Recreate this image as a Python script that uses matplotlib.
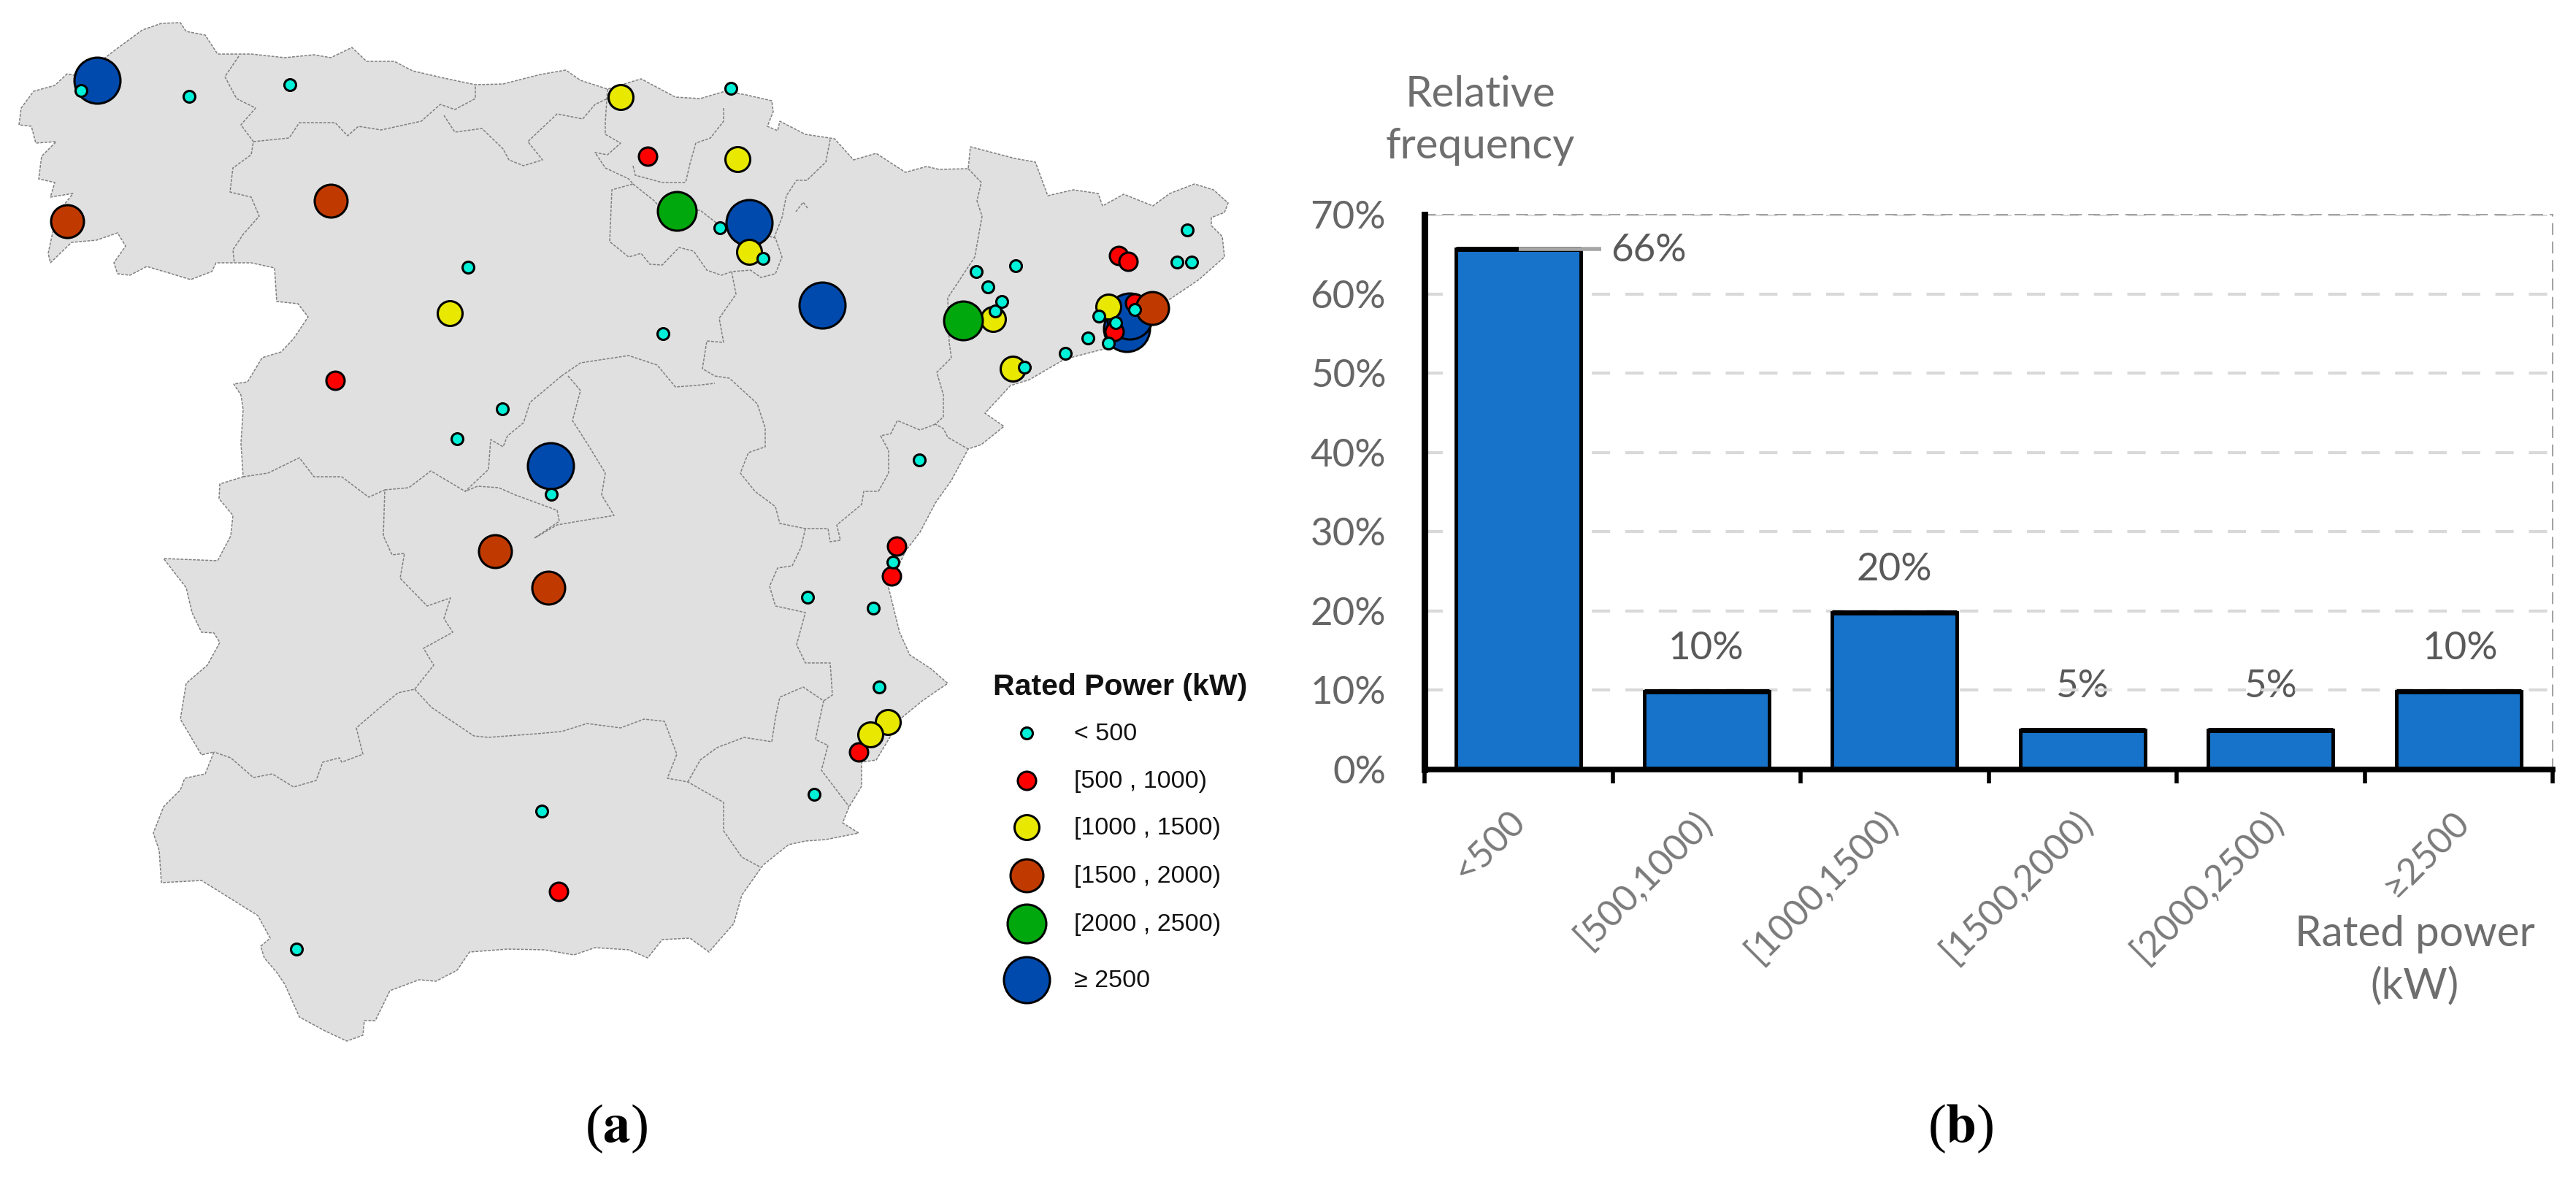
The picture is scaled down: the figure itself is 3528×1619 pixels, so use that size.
import matplotlib
matplotlib.use("Agg")
import matplotlib.pyplot as plt
from matplotlib.patches import Polygon

# 地图轮廓(图像像素坐标)
outline = [(26,171),(29,148),(46,125),(75,117),(92,101),(110,105),(161,66),(195,41),(221,32),(247,31),(255,43),(281,48),(298,74),
    (344,74),(390,79),(430,75),(453,79),(482,65),(502,84),(540,84),(565,97),(608,107),(651,116),(689,115),(740,102),(775,96),
    (795,110),(832,122),(878,108),(925,133),(959,135),(993,125),(1022,130),(1057,138),(1059,153),(1051,173),(1065,179),(1068,166),
    (1103,184),(1143,190),(1169,219),(1200,210),(1240,236),(1269,228),(1286,232),(1326,231),(1329,201),(1390,217),(1418,222),
    (1435,268),(1470,260),(1504,265),(1510,282),(1539,266),(1579,282),(1602,265),(1636,252),(1662,260),(1682,278),(1677,291),
    (1659,298),(1659,309),(1674,324),(1677,352),(1642,383),(1602,410),(1516,477),(1458,492),(1410,520),(1384,528),(1349,566),
    (1375,584),(1344,609),(1326,615),(1303,658),(1281,689),(1260,729),(1240,755),(1217,805),(1232,866),(1246,897),(1275,916),
    (1298,936),(1263,960),(1235,983),(1200,1041),(1180,1044),(1180,1077),(1163,1105),(1154,1127),(1176,1141),(1131,1150),
    (1103,1152),(1080,1157),(1045,1185),(1016,1226),(1005,1265),(971,1304),(945,1285),(907,1287),(887,1312),(861,1301),(815,1298),
    (786,1308),(746,1301),(695,1300),(643,1304),(626,1329),(597,1344),(574,1342),(534,1357),(514,1398),(499,1398),(497,1418),
    (475,1426),(445,1412),(410,1393),(390,1348),(379,1332),(362,1312),(357,1296),(370,1285),(353,1254),(276,1206),(221,1209),
    (218,1165),(210,1141),(224,1105),(247,1082),(253,1066),(281,1060),(293,1030),(276,1034),(247,985),(255,936),(284,911),(301,880),
    (293,867),(276,866),(263,839),(255,805),(224,765),(298,768),(316,734),(319,706),(300,683),(301,663),(333,653),(330,607),(333,561),
    (330,541),(320,526),(339,523),(359,490),(385,482),(402,464),(422,434),(408,416),(379,413),(376,367),(344,360),(296,360),(290,372),
    (261,383),(235,375),(201,365),(178,377),(161,375),(156,360),(172,337),(161,319),(132,329),(98,332),(69,360),(66,347),(72,319),
    (80,290),(100,265),(69,270),(75,250),(53,245),(57,214),(77,194),(49,196),(43,173)]

# 内部边界
borders = [
    [(327,77),(308,105),(324,135),(350,148),(330,171),(347,194),(344,212),(319,230),(315,263),(344,270),(355,296),(333,321),(319,342),(321,360)],
    [(347,194),(396,189),(410,168),(459,168),(476,186),(491,173),(522,178),(577,166),(603,143),(623,150),(651,135),(651,116)],
    [(608,158),(623,181),(660,176),(689,204),(697,219),(717,227),(743,219),(723,194),(763,156),(798,163),(815,143),(832,135)],
    [(832,122),(829,168),(829,184),(850,196),(832,212),(815,209),(829,230),(861,245),(867,252),(838,260),(835,331),(861,352),(878,347),
     (890,362),(907,363),(930,339),(950,344),(968,370),(988,377),(1002,372)],
    [(867,227),(870,240),(907,250),(939,250)],
    [(867,252),(896,275),(907,288),(959,288),(982,306),(1040,320),(1062,326),(1071,352),(1062,375),(1042,380),(1028,370),(1002,372)],
    [(991,148),(991,166),(973,189),(953,196),(945,224),(939,250)],
    [(1137,191),(1131,222),(1105,247),(1091,247),(1077,268),(1071,298),(1060,326)],
    [(1090,290),(1100,277),(1106,285)],
    [(1002,372),(1008,403),(985,436),(991,469),(968,467),(962,505),(979,515),(999,518),(1037,553),(1048,586),(1048,612),(1025,620),
     (1014,648),(1034,673),(1062,694),(1068,717),(1103,724)],
    [(769,515),(795,497),(861,487),(900,500),(925,530),(953,528),(979,525)],
    [(778,515),(795,535),(784,576),(804,607),(829,648),(824,678),(841,706),(792,714),(763,719),(732,737),(766,714),(763,699),(706,678),
     (683,668),(654,666),(637,673),(669,643),(672,602),(689,612),(695,597),(717,579),(726,551),(769,515)],
    [(333,653),(367,648),(410,627),(430,653),(468,653),(505,681),(527,671),(525,734),(537,760),(554,758),(548,792),(585,830),(617,819),
     (608,847),(620,866),(580,888),(594,911),(568,944),(545,949),(517,972),(488,997),(497,1033),(468,1044),(465,1038),(442,1044),
     (433,1069),(402,1078),(373,1060),(347,1065),(316,1038),(293,1030)],
    [(527,671),(560,668),(590,645),(637,673)],
    [(568,944),(591,969),(649,1008),(669,1010),(735,1005),(769,1002),(804,991),(850,997),(882,985),(910,988),(927,1033),(914,1066),
     (942,1071),(991,1099),(991,1138),(1016,1174),(1042,1188)],
    [(942,1071),(959,1041),(982,1024),(1019,1010),(1057,1016),(1062,983),(1068,955),(1100,941),(1128,960),(1120,997),(1117,1013),
     (1134,1021),(1125,1055),(1163,1105)],
    [(1103,724),(1097,750),(1085,775),(1065,778),(1054,803),(1062,830),(1103,839),(1091,883),(1103,908),(1137,908),(1140,952),(1128,960)],
    [(1326,231),(1344,250),(1338,275),(1345,296),(1335,352),(1298,408),(1300,469),(1303,490),(1283,510),(1292,541),(1292,571),(1281,581),
     (1292,587),(1298,599),(1326,615)],
    [(1281,581),(1260,589),(1229,576),(1220,594),(1206,597),(1217,617),(1217,648),(1203,673),(1183,673),(1180,691),(1146,719),(1151,740),
     (1137,742),(1134,724),(1103,724)],
]

# 各功率等级的站点位置
pts_lt500 = [(111,124),(259,132),(397,116),(641,366),(688,560),(626,601),(755,677),(742,1111),(406,1300),(1001,121),(986,312),(1045,354),
    (908,457),(1363,426),(1372,413),(1353,393),(1337,372),(1391,364),(1403,503),(1459,484),(1490,463),(1626,315),(1612,359),(1632,359),
    (1554,424),(1505,433),(1528,442),(1518,470),(1259,630),(1223,770),(1106,818),(1196,833),(1204,941),(1115,1088)]
pts_500 = [(887,214),(459,521),(765,1221),(1532,350),(1545,358),(1554,415),(1526,454),(1228,748),(1221,789),(1176,1030)]
pts_1000 = [(850,133),(616,429),(1010,218),(1026,345),(1360,437),(1387,505),(1518,420),(1216,989),(1192,1006)]
pts_1500 = [(453,275),(92,303),(678,755),(751,805),(1578,422)]
pts_2000 = [(927,289),(1319,439)]
pts_2500 = [(133,110),(754,638),(1026,305),(1126,418),(1543,450),(1547,433)]

classes = ["< 500", "[500 , 1000)", "[1000 , 1500)", "[1500 , 2000)", "[2000 , 2500)", "≥ 2500"]
class_pts = [pts_lt500, pts_500, pts_1000, pts_1500, pts_2000, pts_2500]
class_colors = ["#00f0d8", "#ff0000", "#e8e800", "#c03a00", "#00a80e", "#004aad"]
class_diam = [16, 25, 34, 45, 53, 63]
draw_z = [8, 4, 5, 6, 7, 3]

# 柱状图数据
categories = ["<500", "[500,1000)", "[1000,1500)", "[1500,2000)", "[2000,2500)", "≥2500"]
heights = [65.7, 9.9, 19.8, 5.0, 5.0, 9.9]
bar_labels = ["66%", "10%", "20%", "5%", "5%", "10%"]
y_ticks = [0, 10, 20, 30, 40, 50, 60, 70]

W, H = 3528, 1619
fig = plt.figure(figsize=(W / 100, H / 100), dpi=100)

ax = fig.add_axes([0, 0, 1, 1])
ax.set_xlim(0, W)
ax.set_ylim(H, 0)
ax.axis("off")

ax.add_patch(Polygon(outline, closed=True, facecolor="#e0e0e0", edgecolor="#808080", lw=1.1, ls=(0, (2.5, 1.2)), zorder=1))
for b in borders:
    ax.plot([p[0] for p in b], [p[1] for p in b], color="#808080", lw=1.1, ls=(0, (2.5, 1.2)), zorder=2)


def size(d):
    return (d * 0.72) ** 2


for pts, c, d, z in zip(class_pts, class_colors, class_diam, draw_z):
    ax.scatter([p[0] for p in pts], [p[1] for p in pts], s=size(d), c=c, edgecolors="black", linewidths=2.2, zorder=z)

# 图例
legend_y = [1004, 1069, 1133, 1199, 1265, 1342]
ax.text(1360, 941, "Rated Power (kW)", fontsize=29.5, fontweight="bold", family="Liberation Sans", va="center", color="#111111")
for y, name, c, d in zip(legend_y, classes, class_colors, class_diam):
    ax.scatter([1406], [y], s=size(d), c=c, edgecolors="black", linewidths=2.2, zorder=9)
    ax.text(1471, y + 1, name, fontsize=24.5, family="Liberation Sans", va="center", color="#111111")

# 子图标记
for x, s in [(844, "a"), (2685, "b")]:
    ax.text(x, 1546, "(" + r"$\mathbf{%s}$" % s + ")", fontsize=54, ha="center", va="center",
            family="Liberation Serif", math_fontfamily="stix")

# 柱状图
left, right, top, bottom = 1951, 3496, 294, 1054
ax2 = fig.add_axes([left / W, 1 - bottom / H, (right - left) / W, (bottom - top) / H])
ax2.patch.set_alpha(0)
x_pos = [i + 0.5 for i in range(len(categories))]
ax2.set_xlim(0, 6)
ax2.set_ylim(0, 70)
ax2.bar(x_pos, heights, width=0.665, color="#1772c9", edgecolor="black", linewidth=3.5, zorder=3)
ax2.hlines(heights, [x - 0.3325 for x in x_pos], [x + 0.3325 for x in x_pos], colors="black", linewidth=5, zorder=4)
ax2.hlines(heights[0], x_pos[0], x_pos[0] + 0.44, colors="#a6a6a6", linewidth=4, zorder=5)

ax2.set_yticks(y_ticks)
ax2.set_yticklabels(["%d%%" % v for v in y_ticks], fontsize=38, family="Lato", color="#666666")
ax2.set_xticks(range(7))
ax2.set_xticklabels([])
ax2.tick_params(axis="y", length=0, pad=38)
ax2.tick_params(axis="x", length=14, width=4, color="black")
ax2.yaxis.grid(True, color="#d9d9d9", lw=3, ls=(0, (6, 5)), zorder=1)
ax2.set_axisbelow(True)
ax2.spines["left"].set_linewidth(6.5)
ax2.spines["bottom"].set_linewidth(5.5)
ax2.spines["left"].set_zorder(6)
ax2.spines["bottom"].set_zorder(6)
for s in ["top", "right"]:
    ax2.spines[s].set_linewidth(1.3)
    ax2.spines[s].set_color("#9a9a9a")
    ax2.spines[s].set_linestyle((0, (8, 6)))

label_offset = [(2258, 344), (2336, 888), (2594, 780), (2852, 940), (3110, 940), (3369, 888)]
for (lx, ly), s in zip(label_offset, bar_labels):
    ax.text(lx, ly, s, fontsize=38, family="Lato", color="#595959", ha="center", va="center", zorder=10)

for x, s in zip([2065, 2320, 2575, 2842, 3103, 3358], categories):
    ax.text(x, 1102, s, fontsize=36, family="Lato", color="#7a7a7a", rotation=45, ha="right", va="top",
            rotation_mode="anchor", zorder=10)

ax.text(2027, 165, "Relative\nfrequency", fontsize=42, family="Lato", color="#6e6e6e", ha="center", va="center", linespacing=1.4)
ax.text(3307, 1315, "Rated power\n(kW)", fontsize=42, family="Lato", color="#6e6e6e", ha="center", va="center", linespacing=1.4)

plt.savefig("out.png", dpi=100)
